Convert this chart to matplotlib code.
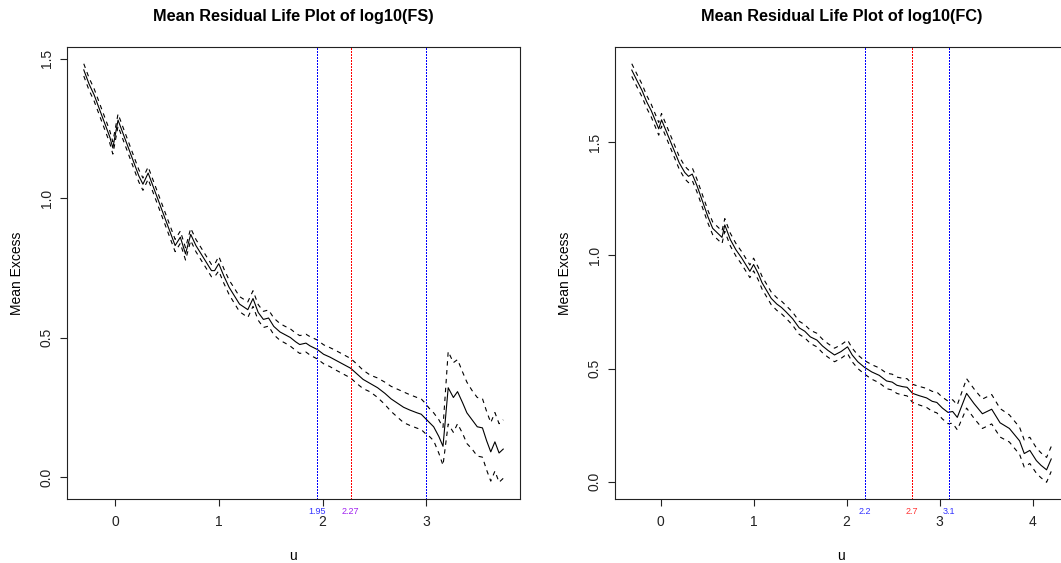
# Mean residual life plots for log10(FS) and log10(FC)

import matplotlib
matplotlib.use("Agg")
import matplotlib.pyplot as plt
import numpy as np

# ----------------------------------------------------------------------------
#  DATA
# ----------------------------------------------------------------------------
fs_u = [-0.30, -0.25, -0.20, -0.15, -0.10, -0.05, -0.02, 0.03, 0.08, 0.13,
        0.18, 0.23, 0.27, 0.32, 0.37, 0.42, 0.47, 0.52, 0.58, 0.63,
        0.68, 0.73, 0.78, 0.83, 0.88, 0.93, 0.96, 1.00, 1.05, 1.10,
        1.15, 1.20, 1.28, 1.33, 1.38, 1.43, 1.48, 1.53, 1.59, 1.64,
        1.69, 1.74, 1.78, 1.84, 1.88, 1.95, 2.01, 2.07, 2.12, 2.17,
        2.22, 2.27, 2.33, 2.39, 2.46, 2.53, 2.60, 2.66, 2.72, 2.78,
        2.84, 2.91, 2.95, 2.99, 3.03, 3.07, 3.12, 3.16, 3.21, 3.26,
        3.30, 3.35, 3.39, 3.44, 3.49, 3.54, 3.58, 3.62, 3.66, 3.70, 3.74]
fs_mean = [1.46, 1.41, 1.37, 1.32, 1.27, 1.22, 1.18, 1.28, 1.23, 1.18,
           1.13, 1.08, 1.05, 1.09, 1.04, 0.99, 0.94, 0.89, 0.83, 0.86,
           0.80, 0.87, 0.83, 0.80, 0.77, 0.74, 0.74, 0.765, 0.72, 0.68,
           0.65, 0.62, 0.60, 0.64, 0.59, 0.565, 0.57, 0.54, 0.52, 0.51,
           0.50, 0.485, 0.475, 0.48, 0.47, 0.457, 0.44, 0.43, 0.42, 0.41,
           0.40, 0.39, 0.37, 0.35, 0.335, 0.32, 0.30, 0.28, 0.265, 0.25,
           0.24, 0.23, 0.225, 0.21, 0.195, 0.18, 0.145, 0.11, 0.32, 0.285,
           0.306, 0.265, 0.23, 0.205, 0.18, 0.176, 0.13, 0.09, 0.126, 0.086, 0.10]
fs_ci = [0.022, 0.022, 0.022, 0.022, 0.022, 0.022, 0.022, 0.022, 0.022, 0.022,
         0.022, 0.022, 0.022, 0.022, 0.022, 0.022, 0.022, 0.022, 0.022, 0.022,
         0.022, 0.022, 0.022, 0.022, 0.022, 0.022, 0.022, 0.026, 0.026, 0.026,
         0.027, 0.027, 0.028, 0.028, 0.028, 0.029, 0.029, 0.03, 0.03, 0.03,
         0.031, 0.031, 0.032, 0.032, 0.033, 0.034, 0.034, 0.034, 0.035, 0.035,
         0.035, 0.035, 0.035, 0.033, 0.03, 0.035, 0.04, 0.045, 0.05, 0.055,
         0.055, 0.055, 0.055, 0.054, 0.05, 0.05, 0.06, 0.068, 0.13, 0.125,
         0.115, 0.11, 0.11, 0.105, 0.105, 0.105, 0.105, 0.105, 0.105, 0.105, 0.105]

fc_u = [-0.31, -0.25, -0.20, -0.15, -0.10, -0.05, -0.02, 0.01, 0.05, 0.10,
        0.15, 0.20, 0.26, 0.30, 0.34, 0.39, 0.45, 0.51, 0.56, 0.61,
        0.66, 0.69, 0.75, 0.81, 0.87, 0.93, 0.96, 1.00, 1.05, 1.09,
        1.14, 1.19, 1.25, 1.30, 1.35, 1.42, 1.49, 1.55, 1.61, 1.68,
        1.74, 1.80, 1.87, 1.94, 2.01, 2.06, 2.12, 2.19, 2.27, 2.35,
        2.43, 2.49, 2.54, 2.60, 2.65, 2.71, 2.78, 2.86, 2.92, 2.97,
        3.03, 3.09, 3.14, 3.19, 3.29, 3.37, 3.46, 3.56, 3.65, 3.75,
        3.86, 3.91, 3.97, 4.04, 4.09, 4.15, 4.20]
fc_mean = [1.82, 1.77, 1.73, 1.68, 1.64, 1.59, 1.56, 1.60, 1.56, 1.51,
           1.46, 1.41, 1.367, 1.35, 1.36, 1.31, 1.24, 1.17, 1.12, 1.10,
           1.08, 1.135, 1.07, 1.025, 0.99, 0.95, 0.93, 0.96, 0.92, 0.88,
           0.845, 0.81, 0.785, 0.77, 0.75, 0.72, 0.68, 0.665, 0.64, 0.626,
           0.60, 0.58, 0.56, 0.575, 0.596, 0.56, 0.53, 0.506, 0.485, 0.47,
           0.445, 0.44, 0.426, 0.42, 0.417, 0.39, 0.38, 0.37, 0.355, 0.35,
           0.325, 0.306, 0.31, 0.284, 0.39, 0.345, 0.30, 0.32, 0.26, 0.235,
           0.18, 0.124, 0.138, 0.093, 0.072, 0.052, 0.10]
fc_ci = [0.028, 0.028, 0.028, 0.028, 0.028, 0.028, 0.028, 0.028, 0.028, 0.028,
         0.028, 0.028, 0.028, 0.028, 0.028, 0.028, 0.028, 0.028, 0.028, 0.028,
         0.028, 0.028, 0.028, 0.028, 0.028, 0.028, 0.028, 0.028, 0.028, 0.028,
         0.028, 0.028, 0.028, 0.028, 0.028, 0.029, 0.029, 0.029, 0.029, 0.03,
         0.03, 0.03, 0.03, 0.03, 0.03, 0.03, 0.03, 0.03, 0.032, 0.033,
         0.034, 0.035, 0.036, 0.037, 0.038, 0.04, 0.041, 0.042, 0.044, 0.046,
         0.048, 0.05, 0.052, 0.055, 0.065, 0.065, 0.065, 0.065, 0.063, 0.06,
         0.06, 0.06, 0.058, 0.056, 0.055, 0.055, 0.055]

fs_vlines = [1.95, 2.27, 3.0]
fs_vline_colors = ["#0000FF", "#FF0000", "#0000FF"]
fs_vlabels = ["1.95", "2.27", ""]
fs_vlabel_colors = ["#3333FF", "#A020F0", "#3333FF"]

fc_vlines = [2.2, 2.7, 3.1]
fc_vline_colors = ["#0000FF", "#FF0000", "#0000FF"]
fc_vlabels = ["2.2", "2.7", "3.1"]
fc_vlabel_colors = ["#3333FF", "#FF3333", "#3333FF"]

fs_xticks = [0, 1, 2, 3]
fc_xticks = [0, 1, 2, 3, 4]
fs_yticks = [0.0, 0.5, 1.0, 1.5]
fc_yticks = [0.0, 0.5, 1.0, 1.5]

# ----------------------------------------------------------------------------
#  STYLE
# ----------------------------------------------------------------------------
plt.rcParams['font.family'] = ['Liberation Sans', 'DejaVu Sans']
plt.rcParams['lines.scale_dashes'] = False


def r_limits(lo, hi):
    # R style 4% padding of the data range
    pad = 0.04 * (hi - lo)
    return lo - pad, hi + pad


def plot_mrl(ax, u, mean, ci, xticks, yticks, vlines, vcolors, vlabels, vlcolors, title, fig):
    u = np.asarray(u)
    mean = np.asarray(mean)
    ci = np.asarray(ci)
    upper = mean + ci
    lower = mean - ci

    ax.plot(u, mean, color='black', linewidth=0.8)
    ax.plot(u, upper, color='black', linewidth=0.8, dashes=(3.2, 3.2))
    ax.plot(u, lower, color='black', linewidth=0.8, dashes=(3.2, 3.2))

    ax.set_xlim(*r_limits(u.min(), u.max()))
    ax.set_ylim(*r_limits(lower.min(), upper.max()))

    for x, c, lab, lc in zip(vlines, vcolors, vlabels, vlcolors):
        ax.axvline(x, color=c, linewidth=0.9, dashes=(1.0, 1.3), antialiased=False)
        if lab:
            ax.annotate(lab, xy=(x, 0), xycoords=('data', 'axes fraction'),
                        xytext=(0, -9.2), textcoords='offset points',
                        ha='center', va='center', fontsize=6.5, color=lc)

    ax.set_xticks(xticks)
    ax.set_xticklabels([str(t) for t in xticks])
    ax.set_yticks(yticks)
    ax.set_yticklabels(["%.1f" % t for t in yticks], rotation=90, va='center')
    ax.tick_params(axis='x', length=5, width=0.8, pad=6.5, labelsize=10, colors='#222222')
    ax.tick_params(axis='y', length=5, width=0.8, pad=4.5, labelsize=10, colors='#222222')
    for s in ax.spines.values():
        s.set_linewidth(0.8)
        s.set_color('#222222')

    ax.set_xlabel('u', fontsize=10, va='center')
    ax.xaxis.set_label_coords(0.5, -0.126)
    ax.set_ylabel('Mean Excess', fontsize=10, va='center')
    ax.yaxis.set_label_coords(-0.110, 0.5)

    bb = ax.get_position()
    fig.text((bb.x0 + bb.x1) / 2, 1 - 17 / 563, title, ha='center', va='center',
             fontsize=11.7, fontweight='bold')


fig = plt.figure(figsize=(10.61, 5.63), dpi=100)
fig.patch.set_facecolor('white')

ax_l = fig.add_axes([67 / 1061, 64 / 563, 453 / 1061, 452 / 563])
ax_r = fig.add_axes([615 / 1061, 64 / 563, 453 / 1061, 452 / 563])

plot_mrl(ax_l, fs_u, fs_mean, fs_ci, fs_xticks, fs_yticks, fs_vlines, fs_vline_colors,
         fs_vlabels, fs_vlabel_colors, 'Mean Residual Life Plot of log10(FS)', fig)
plot_mrl(ax_r, fc_u, fc_mean, fc_ci, fc_xticks, fc_yticks, fc_vlines, fc_vline_colors,
         fc_vlabels, fc_vlabel_colors, 'Mean Residual Life Plot of log10(FC)', fig)

fig.savefig('out.png', dpi=100)
